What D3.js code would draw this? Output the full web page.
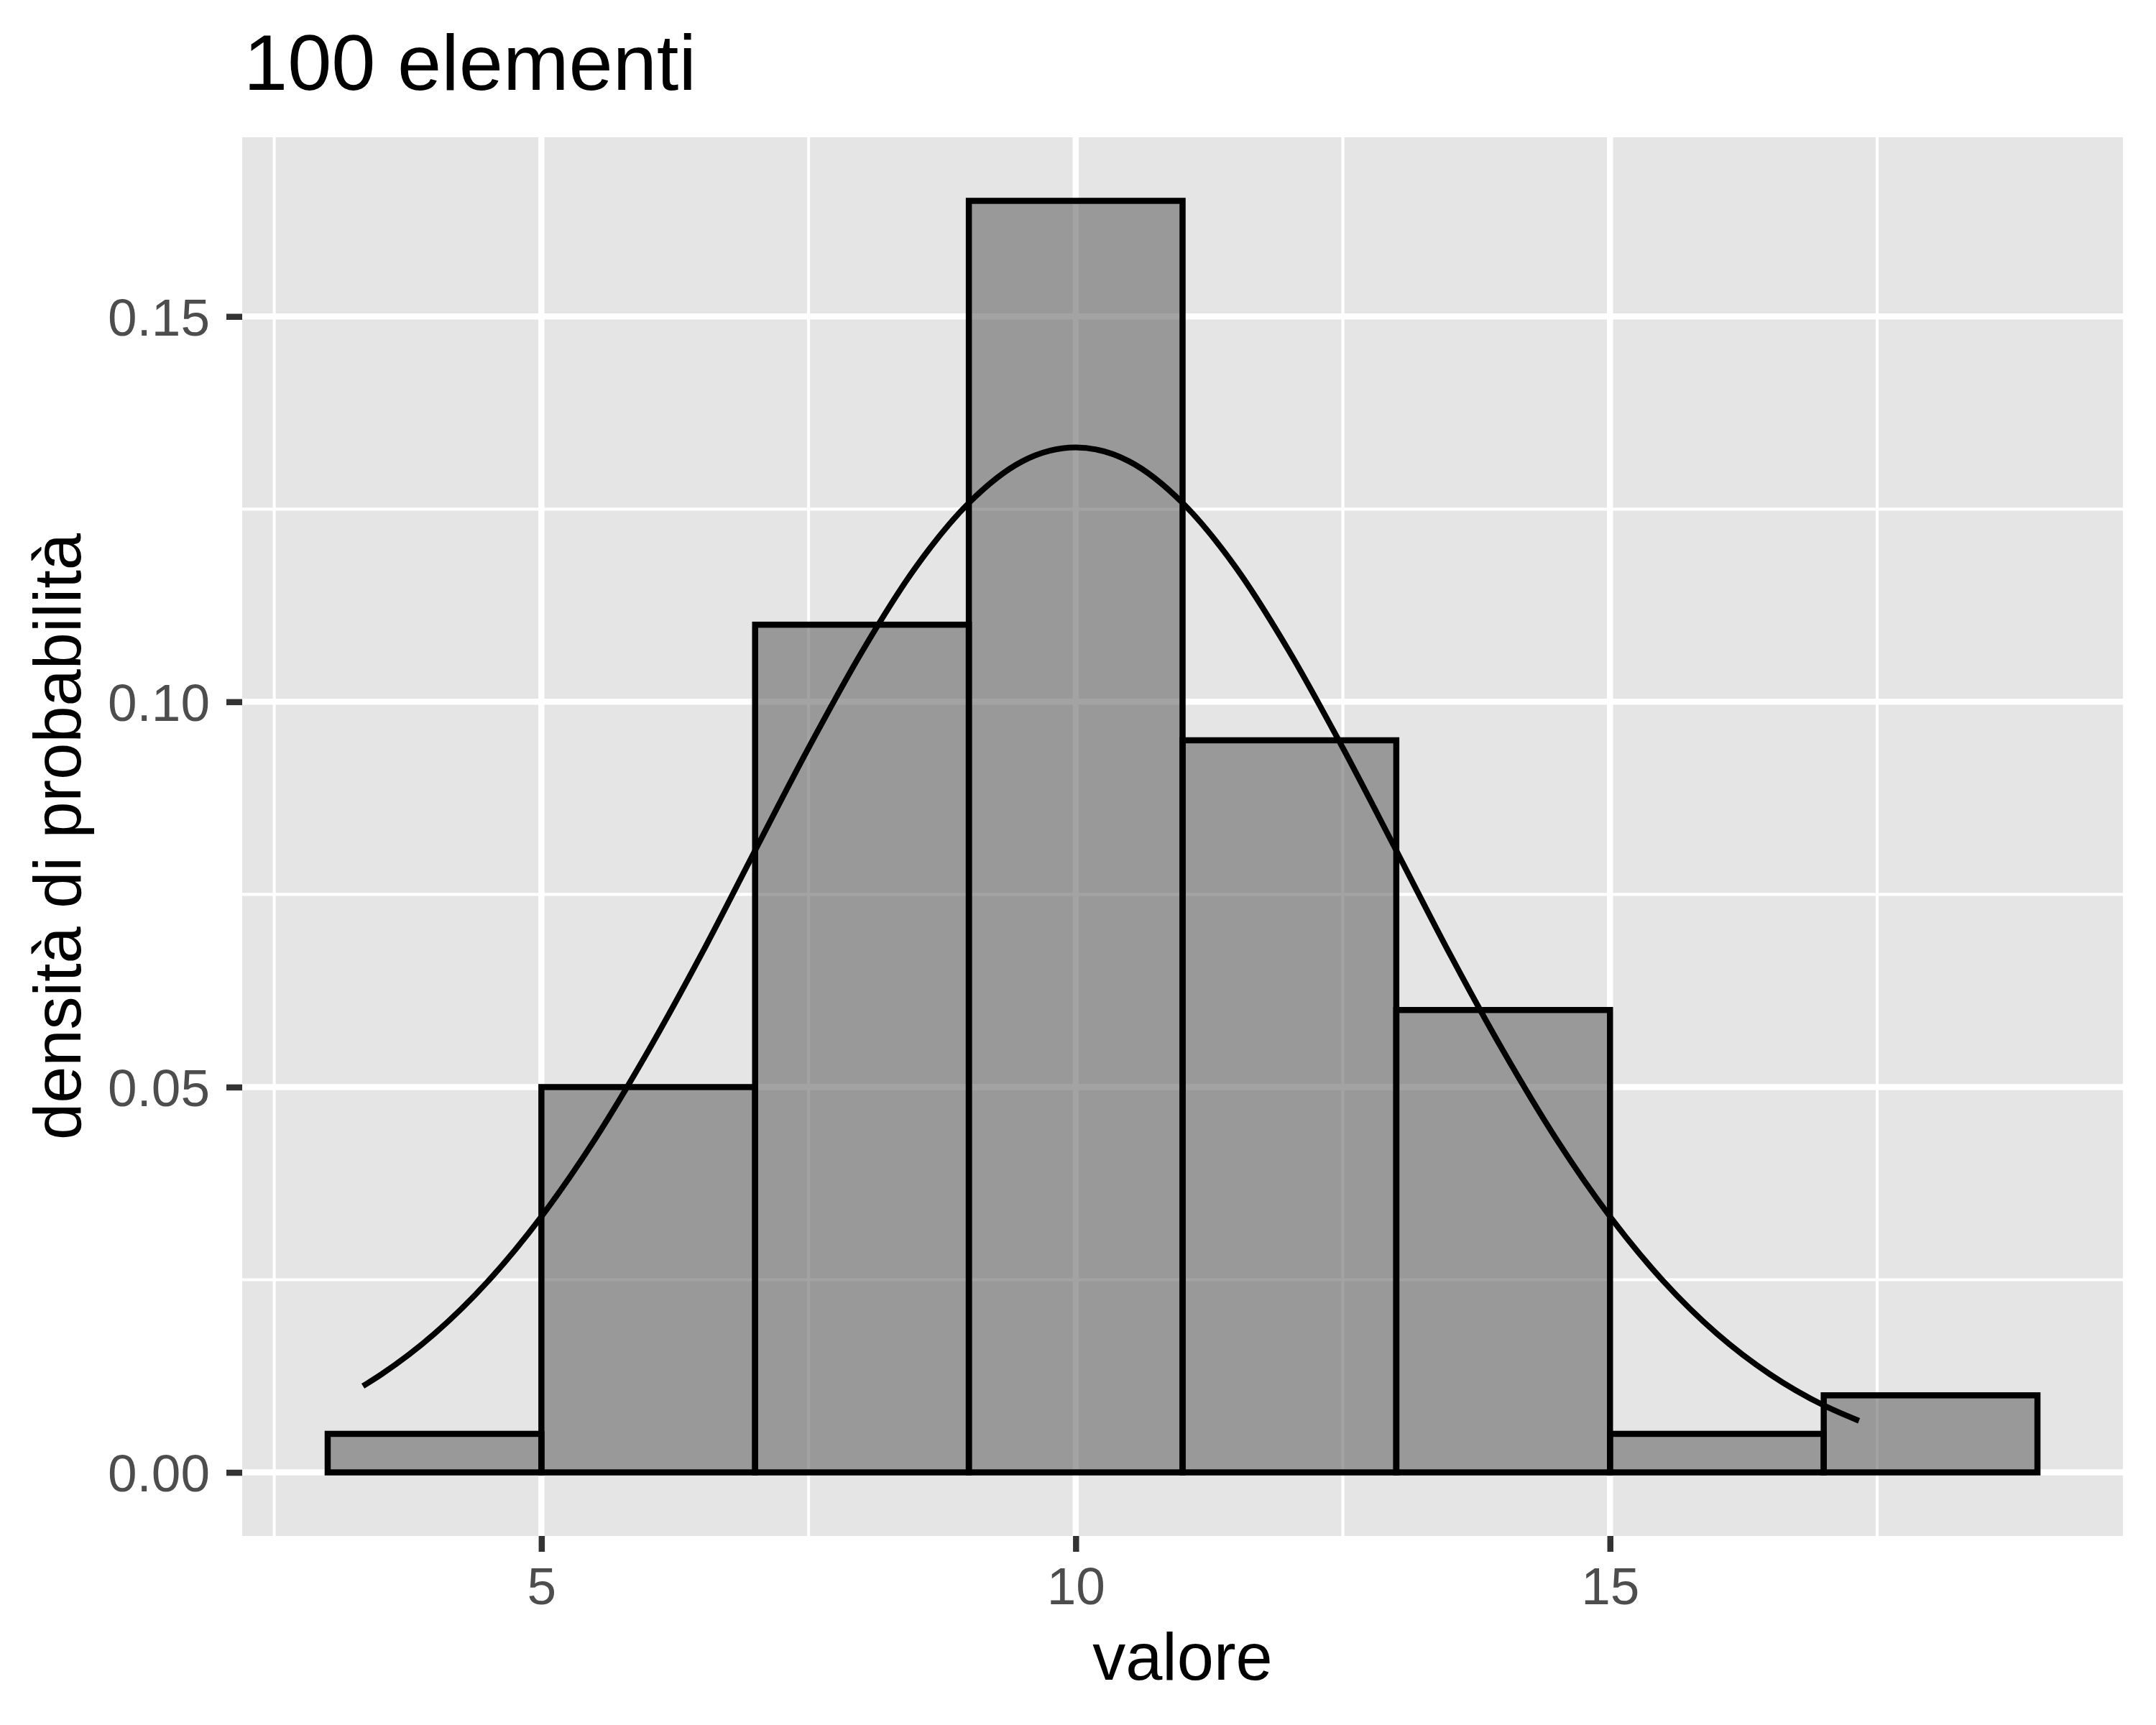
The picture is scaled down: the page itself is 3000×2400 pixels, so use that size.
<!DOCTYPE html>
<html>
<head>
<meta charset="utf-8">
<script src="https://cdn.jsdelivr.net/npm/d3@7"></script>
<style>
  html, body { margin: 0; padding: 0; background: #ffffff; }
  svg { display: block; }
  text { font-family: "Liberation Sans", Arial, Helvetica, sans-serif; }
</style>
</head>
<body>
<svg id="chart" width="3000" height="2400"></svg>
<script>
// ---- data ----
const binEdges   = [3, 5, 7, 9, 11, 13, 15, 17, 19];
const densities  = [0.005, 0.05, 0.11, 0.165, 0.095, 0.06, 0.005, 0.01];
const curveX     = [3.33, 3.5, 4, 4.5, 5, 5.5, 6, 6.5, 7, 7.5, 8, 8.5, 9, 9.5, 10,
                    10.5, 11, 11.5, 12, 12.5, 13, 13.5, 14, 14.5, 15, 15.5, 16, 16.5, 17, 17.33];
const curveY     = [0.0112, 0.0127, 0.0180, 0.0248, 0.0332, 0.0432, 0.0547, 0.0673, 0.0807,
                    0.0940, 0.1065, 0.1174, 0.1258, 0.1312, 0.1330, 0.1312, 0.1258, 0.1174,
                    0.1065, 0.0940, 0.0807, 0.0673, 0.0547, 0.0432, 0.0332, 0.0248, 0.0180,
                    0.0127, 0.0087, 0.0067];
const xTicks     = [5, 10, 15];
const xMinor     = [2.5, 7.5, 12.5, 17.5];
const yTicks     = [0, 0.05, 0.10, 0.15];
const yMinor     = [0.025, 0.075, 0.125];
const titleText  = "100 elementi";
const xLabel     = "valore";
const yLabel     = "densità di probabilità";

// ---- layout ----
const panel = { left: 337, right: 2954, top: 191, bottom: 2137 };
const svg = d3.select("#chart");

const xmin = d3.min(binEdges), xmax = d3.max(binEdges);
const xpad = (xmax - xmin) * 0.05;
const ymax = d3.max(densities);
const ypad = ymax * 0.05;

const x = d3.scaleLinear().domain([xmin - xpad, xmax + xpad]).range([panel.left, panel.right]);
const y = d3.scaleLinear().domain([-ypad, ymax + ypad]).range([panel.bottom, panel.top]);

// panel background
svg.append("rect")
  .attr("x", panel.left).attr("y", panel.top)
  .attr("width", panel.right - panel.left).attr("height", panel.bottom - panel.top)
  .attr("fill", "#E5E5E5");

const grid = svg.append("g");
// minor grid
grid.selectAll(".xminor").data(xMinor).enter().append("line")
  .attr("x1", d => x(d)).attr("x2", d => x(d))
  .attr("y1", panel.top).attr("y2", panel.bottom)
  .attr("stroke", "#ffffff").attr("stroke-width", 4.2);
grid.selectAll(".yminor").data(yMinor).enter().append("line")
  .attr("y1", d => y(d)).attr("y2", d => y(d))
  .attr("x1", panel.left).attr("x2", panel.right)
  .attr("stroke", "#ffffff").attr("stroke-width", 4.2);
// major grid
grid.selectAll(".xmajor").data(xTicks).enter().append("line")
  .attr("x1", d => x(d)).attr("x2", d => x(d))
  .attr("y1", panel.top).attr("y2", panel.bottom)
  .attr("stroke", "#ffffff").attr("stroke-width", 8.5);
grid.selectAll(".ymajor").data(yTicks).enter().append("line")
  .attr("y1", d => y(d)).attr("y2", d => y(d))
  .attr("x1", panel.left).attr("x2", panel.right)
  .attr("stroke", "#ffffff").attr("stroke-width", 8.5);

// histogram bars
const bars = densities.map((d, i) => ({ x0: binEdges[i], x1: binEdges[i + 1], d: d }));
const barG = svg.append("g");
barG.selectAll("rect.fill").data(bars).enter().append("rect")
  .attr("x", b => x(b.x0)).attr("y", b => y(b.d))
  .attr("width", b => x(b.x1) - x(b.x0)).attr("height", b => y(0) - y(b.d))
  .attr("fill", "#666666").attr("fill-opacity", 0.6)
  .attr("stroke", "none");
barG.selectAll("rect.outline").data(bars).enter().append("rect")
  .attr("x", b => x(b.x0)).attr("y", b => y(b.d))
  .attr("width", b => x(b.x1) - x(b.x0)).attr("height", b => y(0) - y(b.d))
  .attr("fill", "none")
  .attr("stroke", "#000000").attr("stroke-width", 8.5);

// density curve
const pts = curveX.map((v, i) => [v, curveY[i]]);
const line = d3.line().x(p => x(p[0])).y(p => y(p[1])).curve(d3.curveMonotoneX);
svg.append("path").datum(pts)
  .attr("d", line)
  .attr("fill", "none").attr("stroke", "#000000").attr("stroke-width", 8)
  .attr("stroke-linecap", "butt");

// axes
const xAxis = d3.axisBottom(x).tickValues(xTicks).tickSize(22).tickPadding(0).tickFormat(d3.format("d"));
const gx = svg.append("g").attr("transform", `translate(0,${panel.bottom})`).call(xAxis);
gx.select(".domain").remove();
gx.selectAll(".tick line").attr("stroke", "#333333").attr("stroke-width", 8.5);
gx.selectAll(".tick text")
  .attr("y", 95).attr("dy", null)
  .attr("fill", "#4D4D4D").attr("font-size", 73)
  .attr("font-family", "'Liberation Sans', Arial, Helvetica, sans-serif");

const yAxis = d3.axisLeft(y).tickValues(yTicks).tickSize(22).tickPadding(0).tickFormat(d3.format(".2f"));
const gy = svg.append("g").attr("transform", `translate(${panel.left},0)`).call(yAxis);
gy.select(".domain").remove();
gy.selectAll(".tick line").attr("stroke", "#333333").attr("stroke-width", 8.5);
gy.selectAll(".tick text")
  .attr("x", -45).attr("dy", null).attr("y", 26)
  .attr("fill", "#4D4D4D").attr("font-size", 73)
  .attr("font-family", "'Liberation Sans', Arial, Helvetica, sans-serif");

// titles
svg.append("text")
  .attr("x", panel.left + 2).attr("y", 125)
  .attr("font-size", 110).attr("fill", "#000000")
  .text(titleText);

svg.append("text")
  .attr("x", (panel.left + panel.right) / 2).attr("y", 2337)
  .attr("text-anchor", "middle")
  .attr("font-size", 92).attr("fill", "#000000")
  .text(xLabel);

svg.append("text")
  .attr("transform", `translate(112,${(panel.top + panel.bottom) / 2}) rotate(-90)`)
  .attr("text-anchor", "middle")
  .attr("font-size", 92).attr("fill", "#000000")
  .text(yLabel);
</script>
</body>
</html>
